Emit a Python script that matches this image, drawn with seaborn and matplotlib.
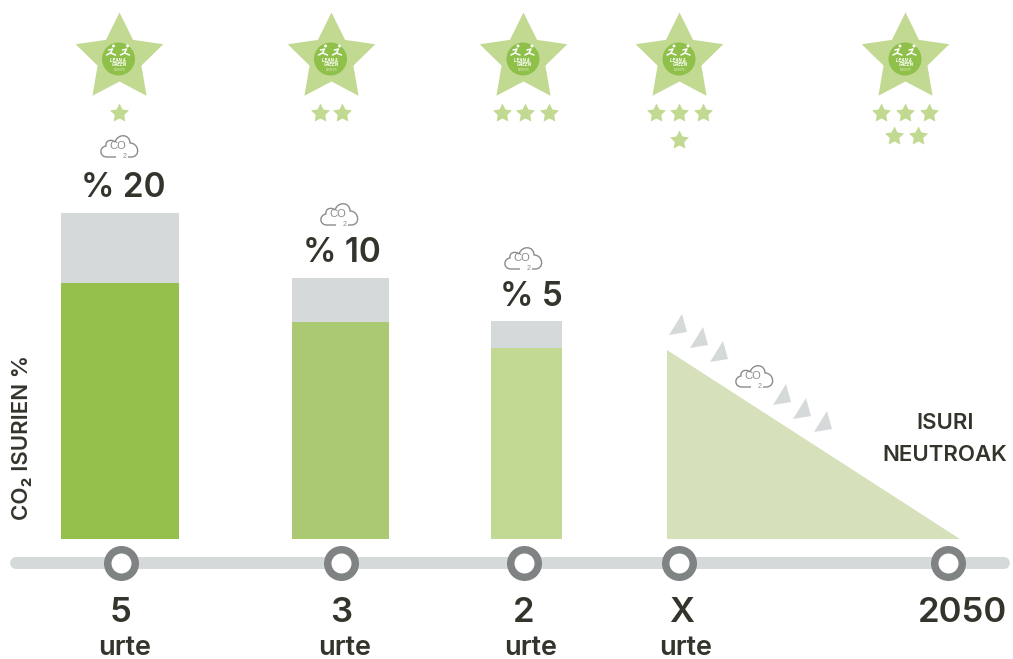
import numpy as np
import seaborn as sns
import matplotlib.pyplot as plt
from matplotlib.path import Path
from matplotlib.patches import PathPatch, Polygon, Circle

# bar values (pixels above the timeline base)
bar_totals = [326, 261, 218]
bar_greens = [256, 217, 191]
bar_labels = ['% 20', '% 10', '% 5']
wedge_start = 189
wedge_end = 0
star_counts = [1, 2, 3, 4, 5]
time_labels = ['5', '3', '2', 'X', '2050']
unit_labels = ['urte', 'urte', 'urte', 'urte', '']

# layout
bar_x = [120, 340.5, 526.5]
bar_w = [118, 97, 71]
bar_cols = ['#96c04c', '#abc873', '#c1d993']
grey = '#d6d9d9'
dark = '#33352c'
star_col = '#c2d992'
stop_x = [120.5, 341, 524, 679, 948]
label_x = [120.5, 341, 524, 682, 962]
unit_x = [125, 344.5, 531, 686]
star_x = [118.5, 330.5, 523, 679, 905]
BASE = 539

sns.set_theme(style='white')
plt.rcParams['font.family'] = ['Inter', 'DejaVu Sans']

fig, ax = plt.subplots(figsize=(10.13, 6.59), dpi=100)
fig.subplots_adjust(0, 0, 1, 1)


def Y(py):
    return BASE - py


# fatter five point star than the '*' marker
ang = np.deg2rad(90 + 36 * np.arange(10))
rad = np.where(np.arange(10) % 2 == 0, 1.0, 0.5)
star_path = Path(np.column_stack([rad * np.cos(ang), rad * np.sin(ang)]).tolist() + [[0, 1]], closed=True)

# bars, one call each since widths differ
for i in range(3):
    sns.barplot(x=[bar_x[i]], y=[bar_totals[i]], native_scale=True, width=bar_w[i],
                color=grey, saturation=1, linewidth=0, ax=ax)
    sns.barplot(x=[bar_x[i]], y=[bar_greens[i]], native_scale=True, width=bar_w[i],
                color=bar_cols[i], saturation=1, linewidth=0, ax=ax)

# neutral wedge
ax.add_patch(Polygon([(667, wedge_start), (667, wedge_end), (960, wedge_end)],
                     fc='#d6e1bb', ec='none'))

# small grey arrows along the slope
for dx, dy in [(0, 0), (21, 13), (41, 27), (104, 70), (124, 84), (145, 97)]:
    ax.add_patch(Polygon([(682 + dx, Y(314 + dy)), (687 + dx, Y(332 + dy)), (669 + dx, Y(335 + dy))],
                         fc=grey, ec='none'))

# timeline
ax.plot([16, 1004], [Y(563), Y(563)], color=grey, lw=8.6, solid_capstyle='round', zorder=2)
sns.scatterplot(x=stop_x, y=[Y(563)] * 5, s=392, color='white', edgecolor='#808384',
                linewidth=5.4, ax=ax, zorder=3, legend=False)


def cloud(cx, cy):
    pts = [(-3, 11), (-12, 11), (-20, 11), (-20, 1), (-13, 0), (-14, -6), (-7, -7), (-4, -4),
           (-1, -13), (11, -12), (11, -3), (20, -3), (22, 11), (12, 11), (9, 11)]
    codes = [Path.MOVETO, Path.LINETO] + [Path.CURVE4] * 12 + [Path.LINETO]
    verts = [(cx + a, Y(cy + b)) for a, b in pts]
    ax.add_patch(PathPatch(Path(verts, codes), fc='none', ec='#8a8c8c', lw=1.0, zorder=4))
    ax.text(cx - 1, Y(cy), 'CO', fontsize=8, color='#8a8c8c', ha='center', va='center',
            family='Liberation Sans')
    ax.text(cx + 6, Y(cy + 11), '2', fontsize=5, color='#8a8c8c', ha='center', va='center',
            family='Liberation Sans')


for cx, cy in [(119, 146), (339, 214), (523, 258), (754, 376)]:
    cloud(cx, cy)

# percent labels
for txt, x, y in zip(bar_labels, [123, 341.5, 531], [188, 253, 297]):
    ax.text(x, Y(y), txt, fontsize=24, color=dark, ha='center', va='center', fontweight=600)

# big stars with logo
sns.scatterplot(x=star_x, y=[Y(58)] * 5, marker=star_path, s=4400, color=star_col, linewidth=0,
                ax=ax, legend=False, zorder=3)
for x in star_x:
    ax.add_patch(Circle((x, Y(59)), 16.5, fc='#8fc04a', ec='none', zorder=4))
    # two little runners
    for off in [-6, 8]:
        ax.add_patch(Circle((x + off + 1, Y(46)), 1.5, fc='white', ec='none', zorder=5))
        ax.plot([x + off - 4, x + off, x + off - 2, x + off - 6], [Y(50), Y(49), Y(53), Y(55)],
                color='white', lw=1.1, zorder=5)
        ax.plot([x + off - 2, x + off + 3], [Y(53), Y(55)], color='white', lw=1.1, zorder=5)
    ax.text(x - 1, Y(60), 'LEAN &', fontsize=3.2, color='white', ha='center', va='center',
            fontweight='bold', style='italic', zorder=5)
    ax.text(x + 1, Y(65), 'GREEN', fontsize=3.2, color='white', ha='center', va='center',
            fontweight='bold', style='italic', zorder=5)
    ax.text(x + 1, Y(70), 'EUROPE', fontsize=2.2, color='#dcebc0', ha='center', va='center', zorder=5)

# small rating stars
small_offsets = {
    1: [(0, 113)],
    2: [(-11, 113), (11, 113)],
    3: [(-21, 113), (2, 113), (26, 113)],
    4: [(-23.5, 113), (0, 113), (23.5, 113), (0, 140)],
    5: [(-24, 113), (0, 113), (24, 113), (-11.5, 136), (12.5, 136)],
}
for x, n in zip(star_x, star_counts):
    for dx, py in small_offsets[n]:
        ax.scatter(x + dx, Y(py), marker=star_path, s=207, color=star_col, linewidth=0, zorder=3)

# timeline labels
for i, t in enumerate(time_labels):
    ax.text(label_x[i], Y(613), t, fontsize=25, color=dark, ha='center', va='center', fontweight=600)
    if unit_labels[i]:
        ax.text(unit_x[i], Y(648), unit_labels[i], fontsize=19.5, color=dark, ha='center', va='center', fontweight=600)

ax.text(22, Y(437), 'CO₂ ISURIEN %', fontsize=16, color=dark, rotation=90, ha='center', va='center', fontweight=600)
ax.text(945, Y(423), 'ISURI', fontsize=16, color=dark, ha='center', va='center', fontweight=600)
ax.text(945, Y(455), 'NEUTROAK', fontsize=16, color=dark, ha='center', va='center', fontweight=600)

ax.set_xlim(0, 1013)
ax.set_ylim(-120, 539)
ax.axis('off')
fig.savefig('out.png', dpi=100)
